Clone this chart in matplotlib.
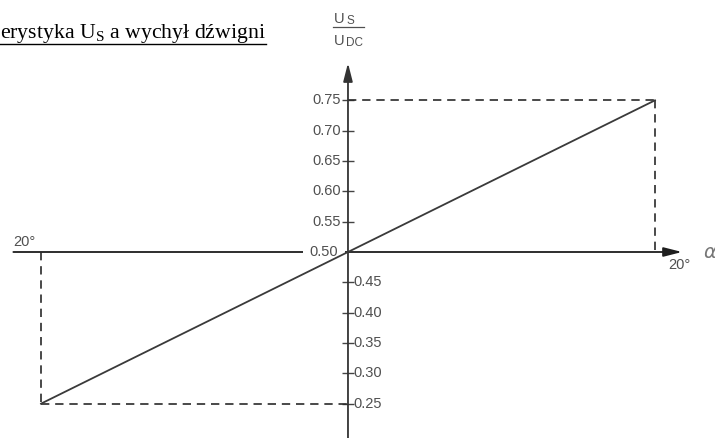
import matplotlib
matplotlib.use("Agg")
import matplotlib.pyplot as plt
from matplotlib.lines import Line2D

# Characteristic: output ratio Us/Udc versus lever deflection angle
angles = [-20, 0, 20]
ratios = [0.25, 0.50, 0.75]
upper_ticks = [0.55, 0.60, 0.65, 0.70, 0.75]
lower_ticks = [0.25, 0.30, 0.35, 0.40, 0.45]
origin_tick = 0.50
angle_label = "20°"

W, H = 715, 438
fig = plt.figure(figsize=(W / 100, H / 100), dpi=100)
ax = fig.add_axes([0, 0, 1, 1])
ax.set_xlim(-22.67, 23.91)
ax.set_ylim(0.1934, 0.9154)
for s in ax.spines.values():
    s.set_visible(False)
ax.spines['left'].set_position(('data', 0))
ax.set_xticks([])
ax.set_yticks(upper_ticks + lower_ticks)
ax.tick_params(axis='y', direction='inout', length=9, width=1.0,
               color='#444444', labelleft=False)

axis_col = '#1e1e1e'
txt_col = '#505050'
font = 'Liberation Sans'
tick_fs = 10.5

# horizontal axis with arrow
ax.annotate('', xy=(21.76, 0.5), xytext=(-21.8, 0.5),
            arrowprops=dict(arrowstyle='-|>,head_length=1.1,head_width=0.28',
                            lw=1.3, color=axis_col, shrinkA=0, shrinkB=0),
            zorder=1)
# vertical axis with arrow
ax.annotate('', xy=(0, 0.8115), xytext=(0, 0.1934),
            arrowprops=dict(arrowstyle='-|>,head_length=1.1,head_width=0.28',
                            lw=1.3, color='#333333', shrinkA=0, shrinkB=0),
            zorder=3)

# characteristic line
ax.plot(angles, ratios, color='#3a3a3a', lw=1.3, zorder=4)

# dashed guides to the end points
dash = dict(color='#2a2a2a', lw=1.2, ls=(0, (5, 3.5)), zorder=2)
ax.plot([0, angles[-1]], [ratios[-1], ratios[-1]], **dash)
ax.plot([angles[-1], angles[-1]], [ratios[-1], ratios[1]], **dash)
ax.plot([angles[0], angles[0]], [ratios[1], ratios[0]], **dash)
ax.plot([angles[0], 0], [ratios[0], ratios[0]], **dash)

# tick labels
for v in upper_ticks:
    ax.text(-0.45, v, f"{v:.2f}", ha='right', va='center', fontsize=tick_fs,
            family=font, color=txt_col)
for v in lower_ticks:
    ax.text(0.33, v, f"{v:.2f}", ha='left', va='center', fontsize=tick_fs,
            family=font, color=txt_col)
ax.text(-0.65, origin_tick, f"{origin_tick:.2f}", ha='right', va='center',
        fontsize=tick_fs, family=font, color=txt_col, zorder=2.5,
        bbox=dict(boxstyle='square,pad=0.45', fc='white', ec='none'))

# angle labels
ax.text(21.6, 0.4786, angle_label, ha='center', va='center', fontsize=tick_fs,
        family=font, color=txt_col)
ax.text(-21.1, 0.5165, angle_label, ha='center', va='center', fontsize=tick_fs,
        family=font, color=txt_col)
ax.text(703 / W, 1 - 252 / H, 'α', transform=ax.transAxes, ha='left',
        va='center', fontsize=14, style='italic', family='DejaVu Sans',
        color='#777777')

# y-axis quantity label: Us / Udc
def fx(px):
    return px / W

def fy(py):
    return 1 - py / H

ax.text(fx(333.5), fy(23), 'U', transform=ax.transAxes, ha='left',
        va='baseline', fontsize=10.5, family=font, color=txt_col)
ax.text(fx(346.5), fy(23.5), 'S', transform=ax.transAxes, ha='left',
        va='baseline', fontsize=8.5, family=font, color=txt_col)
fig.add_artist(Line2D([fx(333), fx(364)], [fy(26.5), fy(26.5)],
                      transform=fig.transFigure, color=txt_col, lw=0.9))
ax.text(fx(333.5), fy(45), 'U', transform=ax.transAxes, ha='left',
        va='baseline', fontsize=10.5, family=font, color=txt_col)
ax.text(fx(346), fy(45.5), 'DC', transform=ax.transAxes, ha='left',
        va='baseline', fontsize=8.5, family=font, color=txt_col)

# heading with underline
title = ax.text(0.0, fy(38), r'erystyka U$_\mathregular{S}$ a wychył dźwigni',
                transform=ax.transAxes, ha='left', va='baseline',
                fontsize=15.7, family='Liberation Serif', color='black')
fig.canvas.draw()
bb = title.get_window_extent(fig.canvas.get_renderer())
fig.add_artist(Line2D([bb.x0 / W, bb.x1 / W], [fy(43.5), fy(43.5)],
                      transform=fig.transFigure, color='black', lw=1.0))

fig.savefig('out.png', dpi=100, facecolor='white')
